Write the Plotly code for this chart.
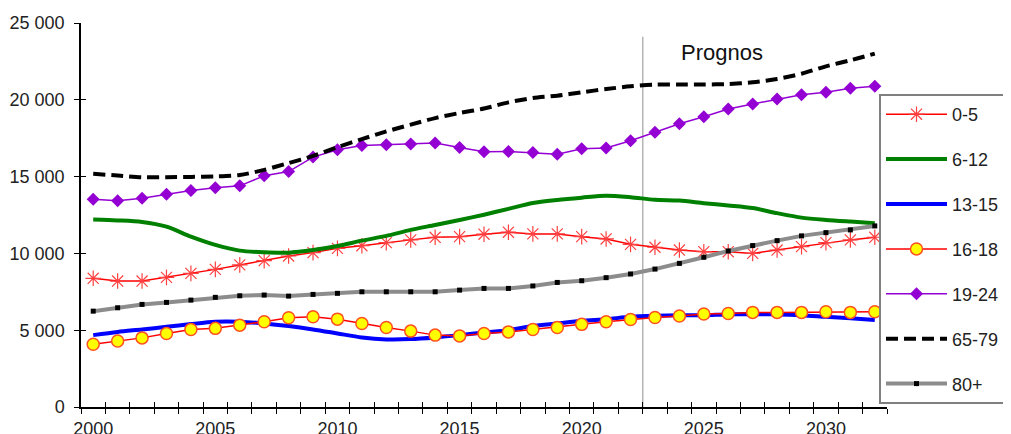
import plotly.graph_objects as go

years = list(range(2000, 2033))
series_names = ["0-5", "6-12", "13-15", "16-18", "19-24", "65-79", "80+"]

age_0_5 = [8380, 8200, 8200, 8440, 8700, 8960, 9250, 9530, 9830, 10050,
           10330, 10500, 10700, 10880, 11050, 11090, 11250, 11380, 11270, 11270,
           11090, 10940, 10590, 10400, 10220, 10110, 10110, 10000, 10220, 10440,
           10700, 10880, 11050]
age_6_12 = [12200, 12150, 12050, 11740, 11090, 10550, 10180, 10070, 10050, 10220,
            10480, 10830, 11140, 11530, 11850, 12180, 12520, 12900, 13280, 13480,
            13630, 13760, 13660, 13490, 13440, 13270, 13120, 12950, 12620, 12330,
            12180, 12070, 11970]
age_13_15 = [4680, 4890, 5050, 5220, 5400, 5550, 5550, 5440, 5270, 5050,
             4790, 4530, 4400, 4420, 4530, 4680, 4850, 5000, 5270, 5440,
             5610, 5720, 5870, 5940, 5980, 5980, 6030, 6030, 6030, 5980,
             5870, 5770, 5660]
age_16_18 = [4090, 4300, 4500, 4790, 5050, 5120, 5330, 5550, 5810, 5870,
             5720, 5440, 5180, 4940, 4680, 4630, 4790, 4890, 5050, 5180,
             5380, 5550, 5700, 5830, 5920, 6050, 6090, 6160, 6160, 6160,
             6200, 6160, 6200]
age_19_24 = [13530, 13420, 13590, 13850, 14090, 14270, 14400, 15050, 15330, 16270,
             16750, 17030, 17070, 17120, 17180, 16900, 16620, 16640, 16570, 16460,
             16810, 16860, 17330, 17880, 18440, 18900, 19400, 19730, 20050, 20330,
             20490, 20750, 20880]
age_65_79 = [15180, 15070, 14960, 14960, 14980, 15010, 15100, 15440, 15880, 16350,
             16920, 17440, 17940, 18380, 18810, 19140, 19430, 19830, 20120, 20270,
             20490, 20700, 20880, 20990, 20990, 20990, 21030, 21140, 21360, 21700,
             22180, 22570, 23010]
age_80 = [6240, 6460, 6680, 6810, 6960, 7140, 7240, 7290, 7220, 7330,
          7400, 7500, 7500, 7500, 7500, 7610, 7720, 7720, 7880, 8110,
          8220, 8420, 8660, 8980, 9350, 9750, 10160, 10510, 10830, 11140,
          11350, 11530, 11790]

x_tick_labels = [2000, 2005, 2010, 2015, 2020, 2025, 2030]
y_tick_values = [0, 5000, 10000, 15000, 20000, 25000]
y_tick_labels = ["0", "5 000", "10 000", "15 000", "20 000", "25 000"]
prognos_label = "Prognos"
prognos_x = 2022.5
prognos_top = 24100
prognos_label_x = 2025.75
prognos_label_y = 23070

FONT = "Liberation Sans, Arial, sans-serif"
TXT = "#222222"

# page body has an 8px margin; compensate so the chart lands where the reference is
OFF = 8
W, H = 1011 - OFF, 434 - OFF
ML, MR, MT, MB = 81 - OFF, 124, 23 - OFF, 27

fig = go.Figure()

fig.add_trace(go.Scatter(
    x=years, y=age_0_5, name=series_names[0], mode="lines+markers",
    line=dict(color="#ff0000", width=1.5),
    marker=dict(symbol="asterisk", size=13, color="#ff4040",
                line=dict(color="#ff4040", width=1.2)),
    legendgroup="g0"))
fig.add_trace(go.Scatter(
    x=years, y=age_6_12, name=series_names[1], mode="lines",
    line=dict(color="#008000", width=4, shape="spline", smoothing=0.8),
    legendgroup="g1"))
fig.add_trace(go.Scatter(
    x=years, y=age_13_15, name=series_names[2], mode="lines",
    line=dict(color="#0000ff", width=4, shape="spline", smoothing=0.8),
    legendgroup="g2"))
fig.add_trace(go.Scatter(
    x=years, y=age_16_18, name=series_names[3], mode="lines+markers",
    line=dict(color="#ff0000", width=1.5),
    marker=dict(symbol="circle", size=12, color="#ffff00",
                line=dict(color="#ff5020", width=1.5)),
    legendgroup="g3"))
fig.add_trace(go.Scatter(
    x=years, y=age_19_24, name=series_names[4], mode="lines+markers",
    line=dict(color="#9400d3", width=1.5),
    marker=dict(symbol="diamond", size=10, color="#9400d3"),
    legendgroup="g4"))
fig.add_trace(go.Scatter(
    x=years, y=age_65_79, name=series_names[5], mode="lines",
    line=dict(color="#000000", width=4, dash="12px,6px", shape="spline", smoothing=0.8),
    legendgroup="g5"))
fig.add_trace(go.Scatter(
    x=years, y=age_80, name=series_names[6], mode="lines+markers",
    line=dict(color="#8c8c8c", width=4),
    marker=dict(symbol="square", size=5, color="#000000"),
    legendgroup="g6"))

# helper trace for overlay axes (inside half of cross ticks)
fig.add_trace(go.Scatter(x=[None], y=[None], xaxis="x2", yaxis="y2",
                         showlegend=False, hoverinfo="skip"))

fig.add_shape(type="line", xref="x", yref="y", x0=prognos_x, x1=prognos_x,
              y0=0, y1=prognos_top, line=dict(color="#b4b4b4", width=1.5), layer="below")
fig.add_annotation(x=prognos_label_x, y=prognos_label_y, xref="x", yref="y",
                   text=prognos_label, showarrow=False,
                   font=dict(family=FONT, size=22, color="#111111"))

xr = [1999.5, 2032.5]
yr = [0, 25000]
pw = W - ML - MR
ph = H - MT - MB

fig.update_layout(
    width=W, height=H,
    margin=dict(l=ML, r=MR, t=MT, b=MB, autoexpand=False),
    paper_bgcolor="white", plot_bgcolor="white",
    font=dict(family=FONT, size=18, color=TXT),
    showlegend=True,
    legend=dict(
        x=(879 - 81) / pw, xanchor="left",
        y=(407 - 94) / ph, yanchor="top",
        bgcolor="white", bordercolor="#808080", borderwidth=2,
        font=dict(family=FONT, size=18, color=TXT),
        itemwidth=61, traceorder="grouped", tracegroupgap=18.5,
        itemclick=False,
    ),
    xaxis=dict(
        range=xr, tickmode="array", tickvals=x_tick_labels,
        ticktext=[str(v) for v in x_tick_labels], ticks="",
        showgrid=False, zeroline=False, showline=True,
        linecolor="#000000", linewidth=1.5, automargin=False,
        minor=dict(tick0=1999.5, dtick=1, ticks="outside", ticklen=5,
                   tickcolor="#000000", tickwidth=1.2, showgrid=False),
        tickfont=dict(family=FONT, size=18, color=TXT),
        ticklabelstandoff=5,
    ),
    xaxis2=dict(
        range=xr, overlaying="x", anchor="y", side="bottom",
        tickmode="linear", tick0=1999.5, dtick=1, ticks="inside", ticklen=5,
        tickcolor="#000000", tickwidth=1.2, showticklabels=False,
        showgrid=False, zeroline=False, showline=False,
    ),
    yaxis=dict(
        range=yr, tickmode="array", tickvals=y_tick_values, ticktext=y_tick_labels,
        ticks="outside", ticklen=5, tickcolor="#000000", tickwidth=1.2,
        showgrid=False, zeroline=False, showline=True,
        linecolor="#000000", linewidth=1.5, automargin=False,
        tickfont=dict(family=FONT, size=18, color=TXT),
        ticklabelstandoff=6,
    ),
    yaxis2=dict(
        range=yr, overlaying="y", anchor="x", side="left",
        tickmode="array", tickvals=y_tick_values, ticks="inside", ticklen=5,
        tickcolor="#000000", tickwidth=1.2, showticklabels=False,
        showgrid=False, zeroline=False, showline=False,
    ),
)

fig.write_html("out.html")
